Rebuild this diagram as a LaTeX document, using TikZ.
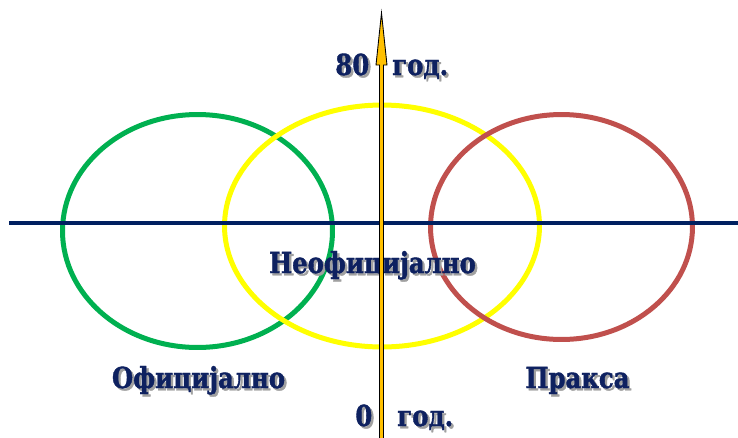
\documentclass[tikz,border=0pt]{standalone}
\usepackage{fontspec}
\setmainfont{DejaVu Serif}[FakeStretch=0.84, BoldFeatures={FakeBold=1.3}]
\usetikzlibrary{shapes.geometric}
\definecolor{linenavy}{RGB}{0,32,96}
\definecolor{textnavy}{RGB}{14,33,96}
\definecolor{ringgreen}{RGB}{0,176,80}
\definecolor{ringyellow}{RGB}{255,255,0}
\definecolor{ringred}{RGB}{192,80,77}
\definecolor{axisgold}{RGB}{255,192,0}
\definecolor{shadowgray}{RGB}{160,160,160}
% text with a soft drop shadow
\newcommand{\shadowed}[1]{\makebox[0pt][l]{\hspace{1.3pt}\raisebox{-1.3pt}{\color{shadowgray}#1}}#1}
\begin{document}
\begin{tikzpicture}[x=0.02cm, y=-0.02cm,
        every node/.style={inner sep=0pt},
        ring/.style={ellipse, draw, line width=0.1cm},
        hline/.style={draw=linenavy, line width=0.08cm},
        axis/.style={fill=axisgold, draw=black, line width=0.5pt, line join=miter},
        tag/.style={font=\bfseries\fontsize{16.5}{19}\selectfont, text=textnavy, anchor=base}
      ]
      \useasboundingbox (0,0) rectangle (738,437);
      % the three areas
      \node[ring, draw=ringgreen, minimum width=5.4cm, minimum height=4.66cm]
      (official) at (197.5,231) {};
      \node[ring, draw=ringyellow, minimum width=6.3cm, minimum height=4.84cm]
      (unofficial) at (382,226) {};
      \node[ring, draw=ringred, minimum width=5.24cm, minimum height=4.5cm]
      (practice) at (561.5,227) {};
      % horizontal axis
      \coordinate (hwest) at (9,223);
      \coordinate (heast) at (738,223);
      \draw[hline] (hwest) -- (heast);
      % labels
      \node[tag] (lofficial)   at (198.5,388) {\shadowed{Официјално}};
      \node[tag] (lunofficial) at (372.5,273) {\shadowed{Неофицијално}};
      \node[tag] (lpractice)   at (577.5,388) {\shadowed{Пракса}};
      \node[tag, anchor=base west] (ltop) at (335,75)
      {\shadowed{80}\hspace{0.46cm}\shadowed{год.}};
      \node[tag, anchor=base west] (lbottom) at (355,426)
      {\shadowed{0}\hspace{0.5cm}\shadowed{год.}};
      % time axis
      \coordinate (vbottom) at (381.5,440);
      \coordinate (vtop) at (381.5,13);
      \filldraw[axis] (379.5,440) -- (379.5,65) -- (376,65) -- (vtop)
        -- (387,65) -- (383.5,65) -- (383.5,440) -- cycle;
    \end{tikzpicture}
\end{document}
